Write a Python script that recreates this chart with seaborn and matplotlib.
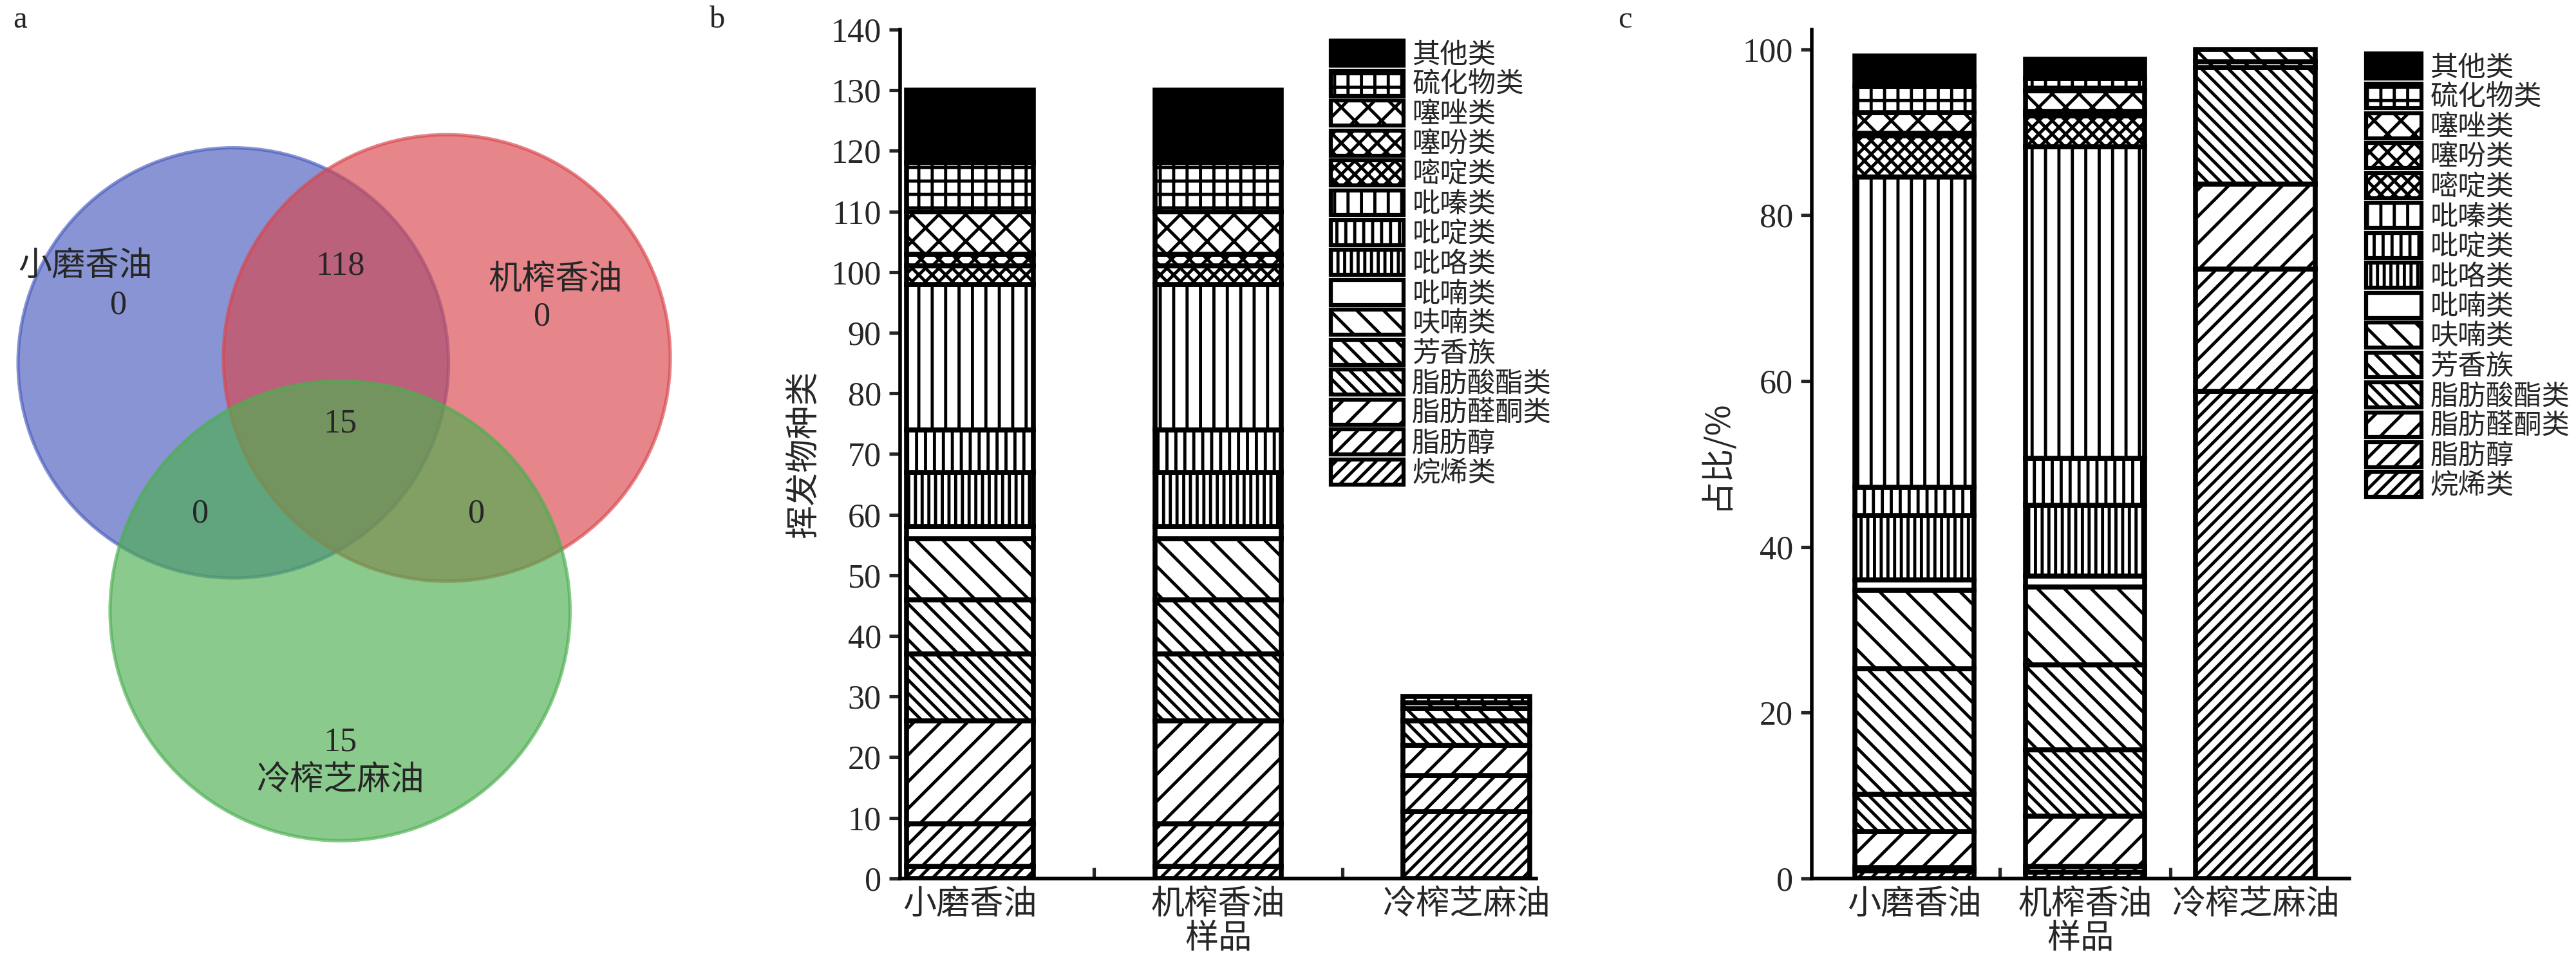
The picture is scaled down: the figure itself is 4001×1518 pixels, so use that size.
import numpy as np
import pandas as pd
import seaborn as sns
import matplotlib.pyplot as plt
from matplotlib.patches import Circle, Patch

sns.set_theme(style="white")
plt.rcParams['font.family'] = ['Liberation Serif', 'Noto Sans CJK SC']
plt.rcParams['hatch.linewidth'] = 1.4
plt.rcParams['hatch.color'] = 'black'

# --- data ---
samples = ['小磨香油', '机榨香油', '冷榨芝麻油']
classes = ['烷烯类', '脂肪醇', '脂肪醛酮类', '脂肪酸酯类', '芳香族', '呋喃类', '吡喃类',
           '吡咯类', '吡啶类', '吡嗪类', '嘧啶类', '噻吩类', '噻唑类', '硫化物类', '其他类']
hatches = ['////', '///', '//', '\\\\\\\\', '\\\\\\', '\\\\', '',
           '||||', '|||', '||', 'xxxx', 'xxx', 'xx', '++', '']

counts_xm = [2, 7, 17, 11, 9, 10, 2, 9, 7, 24, 3, 2, 7, 8, 12]
counts_jz = [2, 7, 17, 11, 9, 10, 2, 9, 7, 24, 3, 2, 7, 8, 12]
counts_lz = [11, 6, 5, 4, 2, 1, 0, 0, 0, 0, 0, 0, 0, 1, 0]

pct_xm = [0.9, 0.4, 4.4, 4.5, 15.1, 9.5, 1.2, 7.8, 3.4, 37.4, 5.0, 0.3, 2.5, 3.2, 3.6]
pct_jz = [0.8, 0.7, 6.0, 8.0, 10.3, 9.4, 1.3, 8.5, 5.7, 37.6, 3.7, 0.5, 2.5, 1.5, 2.3]
pct_lz = [58.8, 14.7, 10.3, 14.0, 0.7, 1.5, 0, 0, 0, 0, 0, 0, 0, 0, 0]

venn_labels = ['小磨香油', '机榨香油', '冷榨芝麻油']
venn_values = ['0', '0', '15', '118', '0', '0', '15']

cjk = ['Noto Sans CJK SC', 'DejaVu Sans']
fs = 14

fig = plt.figure(figsize=(16.004, 6.072), dpi=250)


def stacked(ax, cols, width):
    df = pd.DataFrame(np.array(cols).T, columns=samples)
    bottom = np.zeros(3)
    for i, c in enumerate(classes):
        vals = df.loc[i, samples].values.astype(float)
        sub = pd.DataFrame({'s': samples, 'v': vals})
        before = len(ax.patches)
        sns.barplot(data=sub, x='s', y='v', ax=ax, width=width, bottom=bottom,
                    color='black' if c == '其他类' else 'white',
                    edgecolor='black', linewidth=2.2, hatch=hatches[i])
        for p in ax.patches[before:]:
            if p.get_height() == 0:
                p.set_visible(False)
        bottom = bottom + vals


def style(ax, ylabel):
    for s in ['top', 'right']:
        ax.spines[s].set_visible(False)
    for s in ['left', 'bottom']:
        ax.spines[s].set_color('black')
        ax.spines[s].set_linewidth(1.6)
    ax.set_xticks([0, 1, 2])
    ax.set_xticklabels(samples, family=cjk, fontsize=fs + 1)
    ax.set_xticks([0.5, 1.5], minor=True)
    ax.tick_params(axis='x', which='major', length=0, pad=4)
    ax.tick_params(axis='x', which='minor', direction='in', length=5, width=1.5, bottom=True)
    ax.tick_params(axis='y', direction='out', length=5, width=1.5, left=True, labelsize=fs + 1)
    ax.set_xlabel('样品', family=cjk, fontsize=fs + 1, labelpad=0)
    ax.set_ylabel(ylabel, family=cjk, fontsize=fs + 1)


def legend(ax, loc, anchor, hl):
    handles = [Patch(facecolor='black' if c == '其他类' else 'white', edgecolor='black',
                     linewidth=1.8, hatch=h, label=c) for c, h in zip(classes, hatches)]
    ax.legend(handles=handles[::-1], loc=loc, bbox_to_anchor=anchor, frameon=False,
              prop={'family': cjk, 'size': 12.5}, labelspacing=0.05, handlelength=hl,
              handleheight=1.0, handletextpad=0.3, borderaxespad=0)

# --- a: venn ---
axa = fig.add_axes([0, 0, 430 / 1568, 1])
axa.set_xlim(0, 430)
axa.set_ylim(595, 0)
axa.axis('off')
for (cx, cy, r), col in zip([(142, 221, 131), (272, 218, 136), (207, 372, 140)],
                            ['#4a5bbd', '#d9464c', '#4caf50']):
    axa.add_patch(Circle((cx, cy), r, facecolor=col, alpha=0.65, edgecolor=col, linewidth=1.5))
axa.text(8, 12, 'a', fontsize=fs, va='center')
axa.text(52, 162, venn_labels[0], family=cjk, fontsize=fs + 1, ha='center', va='center')
axa.text(338, 170, venn_labels[1], family=cjk, fontsize=fs + 1, ha='center', va='center')
axa.text(207, 475, venn_labels[2], family=cjk, fontsize=fs + 1, ha='center', va='center')
for (x, y), t in zip([(72, 186), (330, 193), (207, 452), (207, 162), (122, 313), (290, 313), (207, 258)],
                     venn_values):
    axa.text(x, y, t, fontsize=fs + 1, ha='center', va='center')

# --- b: counts ---
axb = fig.add_axes([548 / 1568, 60 / 595, 387 / 1568, 517 / 595])
stacked(axb, [counts_xm, counts_jz, counts_lz], 0.51)
axb.set_xlim(-0.28, 2.28)
axb.set_ylim(0, 140)
axb.set_yticks(np.arange(0, 141, 10))
style(axb, '挥发物种类')
legend(axb, 'upper left', (0.66, 1.0), 2.6)
fig.text(432 / 1568, 1 - 12 / 595, 'b', fontsize=fs, va='center')

# --- c: percent ---
axc = fig.add_axes([1103 / 1568, 60 / 595, 327 / 1568, 517 / 595])
stacked(axc, [pct_xm, pct_jz, pct_lz], 0.7)
axc.set_xlim(-0.6, 2.55)
axc.set_ylim(0, 102.4)
axc.set_yticks(np.arange(0, 101, 20))
style(axc, '占比/%')
legend(axc, 'upper left', (1.01, 0.985), 2.0)
fig.text(985 / 1568, 1 - 12 / 595, 'c', fontsize=fs, va='center')

fig.savefig('out.png', dpi=250, facecolor='white')
